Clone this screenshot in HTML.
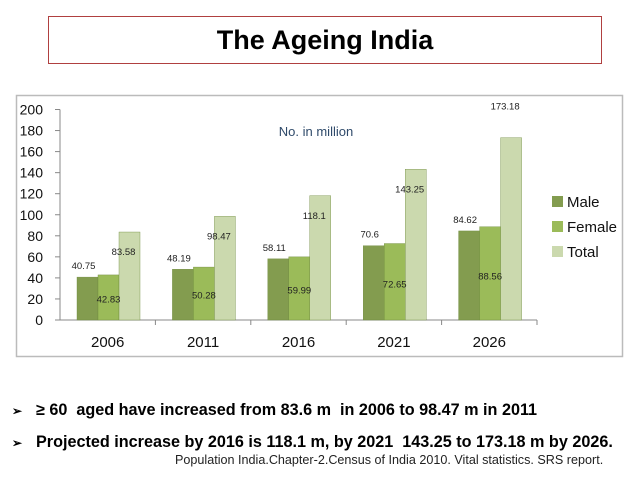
<!DOCTYPE html>
<html><head><meta charset="utf-8"><style>
body{margin:0;width:638px;height:479px;background:#fff;font-family:"Liberation Sans",sans-serif;position:relative;overflow:hidden}
#title{position:absolute;left:48px;top:16px;width:554px;height:48px;border:1.5px solid #b04040;box-sizing:border-box;text-align:center;font-weight:bold;font-size:27px;line-height:46px}
.b{position:absolute;left:12px;font-weight:bold;font-size:16.2px;white-space:nowrap}
.b span{display:inline-block;width:24px;font-size:12px}
#foot{position:absolute;left:175px;top:453px;font-size:12.6px;color:#222;white-space:nowrap}
</style></head><body>
<div id="title">The Ageing India</div>
<svg id="chart" width="638" height="479" style="position:absolute;left:0;top:0"></svg>
<div class="b" style="top:401px"><span>➢</span>≥ 60&nbsp; aged have increased from 83.6 m&nbsp; in 2006 to 98.47 m in 2011</div>
<div class="b" style="top:433px"><span>➢</span>Projected increase by 2016 is 118.1 m, by 2021&nbsp; 143.25 to 173.18 m by 2026.</div>
<div id="foot">Population India.Chapter-2.Census of India 2010. Vital statistics. SRS report.</div>
<script>
const categories=["2006","2011","2016","2021","2026"];
const male=[40.75,48.19,58.11,70.6,84.62];
const female=[42.83,50.28,59.99,72.65,88.56];
const total=[83.58,98.47,118.1,143.25,173.18];
const ticks=[0,20,40,60,80,100,120,140,160,180,200];
const seriesNames=["Male","Female","Total"];
const colors=["#839c4f","#9bbb59","#cbd9ae"];
const NS="http://www.w3.org/2000/svg";
const svg=document.getElementById('chart');
const x0=60,x1=537,yB=320,yT=109.5;
const y=v=>yB-(v/200)*(yB-yT);
const cw=(x1-x0)/categories.length;
function mk(t,a,txt){const e=document.createElementNS(NS,t);for(const k in a)e.setAttribute(k,a[k]);if(txt!==undefined)e.textContent=txt;svg.appendChild(e);return e;}
const fr=mk('rect',{x:16.5,y:95.5,width:606,height:261,fill:'none',stroke:'#bbb','stroke-width':1.5});


ticks.forEach(t=>{
 const tl=mk('line',{x1:x0-5,x2:x0,y1:y(t),y2:y(t),stroke:'#888'});
 
 
 const l=mk('text',{x:43,y:y(t)+5,'text-anchor':'end','font-size':14,fill:'#111'},t);
 
 
});
const ya=mk('line',{x1:x0,x2:x0,y1:yT,y2:yB,stroke:'#888'});


const xa=mk('line',{x1:x0,x2:x1,y1:yB,y2:yB,stroke:'#888'});


const bw=21;
const series=[male,female,total];
categories.forEach((c,i)=>{
 const cx=x0+cw*i;
 const tk=mk('line',{x1:cx+cw,x2:cx+cw,y1:yB,y2:yB+5,stroke:'#888'});
 
 
 const cl=mk('text',{x:cx+cw/2,y:yB+27,'text-anchor':'middle','font-size':15,fill:'#111'},c);
 
 
 series.forEach((s,j)=>{
  const bx=cx+17+j*bw;
  const r=mk('rect',{x:bx,y:y(s[i]),width:bw,height:yB-y(s[i]),fill:colors[j],stroke:'#6f8a3e','stroke-width':0.4});
  
  
 });
 const lm=mk('text',{x:cx+17+bw/2-4,y:y(male[i])-8,'text-anchor':'middle','font-size':9.5,fill:'#222'},male[i]);
 
 
 const lf=mk('text',{x:cx+17+bw*1.5,y:y(female[i]*0.48)+4,'text-anchor':'middle','font-size':9.5,fill:'#222'},female[i]);
 
 
 const tv=i===4?y(total[i])-28:y(total[i]-22);
 const lt=mk('text',{x:cx+17+bw*2.5-6,y:tv,'text-anchor':'middle','font-size':9.5,fill:'#222'},total[i]);
 
 
});
const note=mk('text',{x:316,y:136,'text-anchor':'middle','font-size':13,fill:'#2f4a6a'},'No. in million');


seriesNames.forEach((n,j)=>{
 const yy=196+j*25;
 const sq=mk('rect',{x:552,y:yy,width:11,height:11,fill:colors[j]});
 
 
 const t=mk('text',{x:567,y:yy+11,'font-size':15,fill:'#111'},n);
 
 
});
</script>
</body></html>
